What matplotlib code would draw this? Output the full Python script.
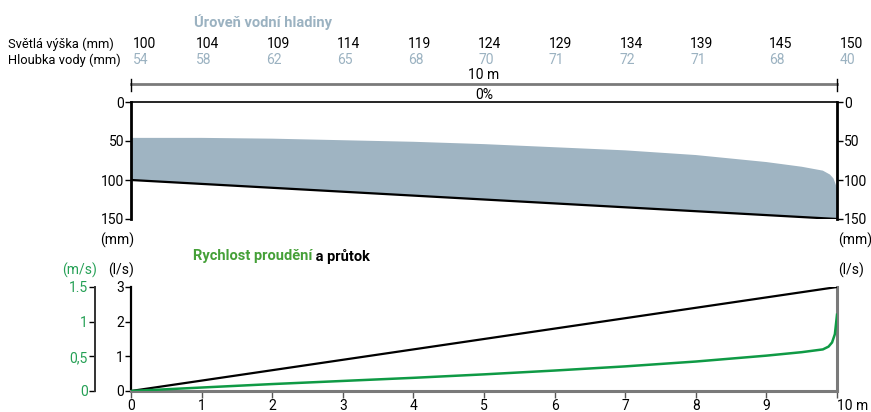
import matplotlib
matplotlib.use('Agg')
import matplotlib.pyplot as plt
import matplotlib.transforms as mtransforms
from matplotlib.lines import Line2D

plt.rcParams['font.family'] = ['DejaVu Sans Condensed', 'Roboto']
plt.rcParams['font.size'] = 10

# data
stations = [0, 1, 2, 3, 4, 5, 6, 7, 8, 9, 10]
clearance = [100, 104, 109, 114, 119, 124, 129, 134, 139, 145, 150]   # Světlá výška (mm)
depth = [54, 58, 62, 65, 68, 70, 71, 72, 71, 68, 40]                  # Hloubka vody (mm)

surf_x = [0, 1, 2, 3, 4, 5, 6, 7, 8, 9, 9.5, 9.8, 9.9, 9.95, 10]
surf_y = [46, 46, 47, 49, 51, 54, 58, 62, 68, 77, 83, 88, 93, 98, 110]  # water surface (mm)

flow_x = [0, 1, 2, 3, 4, 5, 6, 7, 8, 9, 10]
flow = [0, 0.3, 0.6, 0.9, 1.2, 1.5, 1.8, 2.1, 2.4, 2.7, 3.0]          # l/s

vel_x = [0, 1, 2, 3, 4, 5, 6, 7, 8, 9, 9.5, 9.8, 9.88, 9.93, 9.97, 10]
vel = [0, 0.05, 0.10, 0.145, 0.19, 0.24, 0.295, 0.355, 0.425, 0.51, 0.56, 0.60, 0.64, 0.70, 0.82, 1.10]  # m/s

W, H = 871, 412
water = '#9fb4c2'
water_txt = '#9bb2c1'
green_line = '#0f9a45'
green_title = '#45a038'
green_lab = '#25a055'
grey = '#7a7a7a'

def fx(px):
    return px / W

def fy(py):
    return 1 - py / H

fig = plt.figure(figsize=(W / 100, H / 100), dpi=100)

#____________ top: water level ____________
ax = fig.add_axes([fx(131), fy(219), 706 / W, 117 / H])
ax.set_xlim(0, 10)
ax.set_ylim(150, 0)

poly_x = surf_x + [stations[-1], stations[0]]
poly_y = surf_y + [clearance[-1], clearance[0]]
ax.fill(poly_x, poly_y, color=water, lw=0, zorder=1)
ax.plot([stations[0], stations[-1]], [clearance[0], clearance[-1]], color='k', lw=1.6, zorder=2)

for s in ['left', 'right']:
    ax.spines[s].set_linewidth(2)
ax.spines['top'].set_linewidth(1.2)
ax.spines['bottom'].set_visible(False)
ax.set_xticks([])
ax.set_yticks([0, 50, 100, 150])
ax.tick_params(axis='y', left=True, right=True, labelleft=True, labelright=True,
               length=4, width=1, pad=1)

fig.text(fx(117), fy(240), '(mm)', ha='center', va='center')
fig.text(fx(855), fy(240), '(mm)', ha='center', va='center')

# header table
trans = mtransforms.blended_transform_factory(ax.transData, fig.transFigure)
fig.text(fx(263), fy(22), 'Úroveň vodní hladiny', color=water_txt, weight='bold',
         ha='center', va='center', fontsize=10.5)
fig.text(fx(8), fy(44), 'Světlá výška (mm)', ha='left', va='center', fontsize=9.3)
fig.text(fx(8), fy(60), 'Hloubka vody (mm)', ha='left', va='center', fontsize=9.3)
for i, st in enumerate(stations):
    if i == 0:
        xx = st + 0.03
    elif i >= 9:
        xx = st + 0.04
    else:
        xx = st - 0.08
    fig.text(xx, fy(44), str(clearance[i]), transform=trans, ha='left', va='center')
    fig.text(xx, fy(60), str(depth[i]), transform=trans, ha='left', va='center', color=water_txt)

# dimension line
fig.add_artist(Line2D([0, 10], [fy(84), fy(84)], transform=trans, color=grey, lw=2))
for st in [0, 10]:
    fig.add_artist(Line2D([st, st], [fy(79), fy(91)], transform=trans, color='k', lw=1))
fig.text(5, fy(75), '10 m', transform=trans, ha='center', va='center')
fig.text(5, fy(95), '0%', transform=trans, ha='center', va='center')

#____________ bottom: velocity and flow ____________
axb = fig.add_axes([fx(131), fy(391), 706 / W, 104 / H])
axb.set_xlim(0, 10)
axb.set_ylim(0, 3)
axb.plot(flow_x, flow, color='k', lw=1.6, zorder=3)

axb.spines['top'].set_visible(False)
axb.spines['left'].set_linewidth(1.6)
axb.spines['bottom'].set_color(grey)
axb.spines['bottom'].set_linewidth(2.2)
axb.spines['right'].set_color(grey)
axb.spines['right'].set_linewidth(2.2)
axb.set_xticks(stations)
axb.set_xticklabels([str(s) for s in stations[:-1]] + ['10 m'])
axb.get_xticklabels()[-1].set_horizontalalignment('left')
axb.tick_params(axis='x', length=5, width=1, pad=1, color='#555555')
axb.set_yticks([0, 1, 2, 3])
axb.tick_params(axis='y', left=True, right=True, labelleft=True, labelright=True,
                length=4, width=1, pad=1)

axv = axb.twinx()
axv.set_ylim(0, 1.5)
axv.plot(vel_x, vel, color=green_line, lw=1.8, zorder=4)
axv.yaxis.set_ticks_position('left')
axv.yaxis.set_label_position('left')
for s in ['top', 'right', 'bottom']:
    axv.spines[s].set_visible(False)
axv.spines['left'].set_position(('outward', 26))
axv.spines['left'].set_linewidth(1.4)
axv.spines['left'].set_color('#333333')
axv.set_yticks([0, 0.5, 1, 1.5])
axv.set_yticklabels(['0', '0,5', '1', '1.5'])
axv.tick_params(axis='y', length=4, width=1, pad=1, labelcolor=green_lab)

fig.text(fx(80), fy(270), '(m/s)', color=green_lab, ha='center', va='center')
fig.text(fx(121), fy(270), '(l/s)', ha='center', va='center')
fig.text(fx(851), fy(270), '(l/s)', ha='center', va='center')

t1 = fig.text(fx(193), fy(256), 'Rychlost proudění', color=green_title, weight='bold',
              ha='left', va='center', fontsize=10.5)
axb.annotate(' a průtok', xy=(1, 0.5), xycoords=t1, weight='bold', ha='left', va='center',
             annotation_clip=False, fontsize=10.5)
plt.savefig('out.png', dpi=100)
